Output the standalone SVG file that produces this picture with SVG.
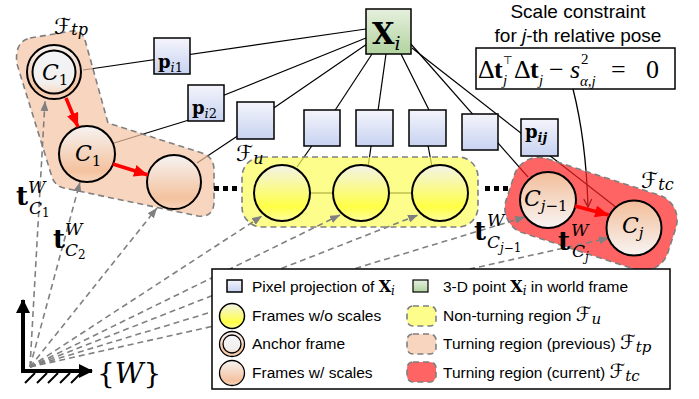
<svg xmlns="http://www.w3.org/2000/svg" width="699" height="399" viewBox="0 0 699 399">
<defs>
<linearGradient id="gBox" x1="0" y1="0" x2="0" y2="1"><stop offset="0" stop-color="#f4f4fb"/><stop offset="1" stop-color="#c8d3f1"/></linearGradient>
<linearGradient id="gGreen" x1="0" y1="0" x2="0" y2="1"><stop offset="0" stop-color="#e6f0de"/><stop offset="1" stop-color="#b2d39f"/></linearGradient>
<linearGradient id="gYel" x1="0" y1="0" x2="0" y2="1"><stop offset="0" stop-color="#f3f3ea"/><stop offset="0.75" stop-color="#ffff45"/><stop offset="1" stop-color="#ffffa0"/></linearGradient>
<linearGradient id="gPeach" x1="0" y1="0" x2="0" y2="1"><stop offset="0" stop-color="#f6f3f2"/><stop offset="0.8" stop-color="#f4c29f"/><stop offset="1" stop-color="#f8d6be"/></linearGradient>
<linearGradient id="gPeachRev" x1="0" y1="0" x2="0" y2="1"><stop offset="0" stop-color="#f2bd99"/><stop offset="1" stop-color="#f8f5f4"/></linearGradient>
<linearGradient id="gInner" x1="0" y1="0" x2="0" y2="1"><stop offset="0" stop-color="#f4f5f8"/><stop offset="0.75" stop-color="#f2f0ee"/><stop offset="1" stop-color="#f6d9c3"/></linearGradient>
<marker id="mGray" markerUnits="userSpaceOnUse" markerWidth="10" markerHeight="8" refX="10" refY="4" orient="auto"><path d="M0,0 L10,4 L0,8 Z" fill="#808080"/></marker>
<marker id="mRed" markerUnits="userSpaceOnUse" markerWidth="14" markerHeight="12" refX="14" refY="6" orient="auto"><path d="M0,0 L14,6 L0,12 Z" fill="#ff0000"/></marker>
<marker id="mAxis" markerUnits="userSpaceOnUse" markerWidth="14" markerHeight="14" refX="13" refY="7" orient="auto"><path d="M0,0 L14,7 L0,14 Z" fill="#000"/></marker>
<marker id="mOpen" markerUnits="userSpaceOnUse" markerWidth="10" markerHeight="10" refX="9" refY="5" orient="auto"><path d="M1,1 L9,5 L1,9" fill="none" stroke="#000" stroke-width="1.2"/></marker>
<style>
.ln{stroke:#000;stroke-width:1.2;fill:none}
.dash{stroke:#808080;stroke-width:1.6;stroke-dasharray:6 4;fill:none;marker-end:url(#mGray)}
.red{stroke:#ff0000;stroke-width:3.5;fill:none;marker-end:url(#mRed)}
.circ{stroke:#000;stroke-width:2}
.box{fill:url(#gBox);stroke:#000;stroke-width:1.5}
.reg{stroke:#808080;stroke-width:1.6;stroke-dasharray:6 4}
.m{font-family:"DejaVu Serif","Liberation Serif",serif}
.ms{font-family:"Liberation Serif","DejaVu Serif",serif}
.it{font-style:italic}
.bf{font-weight:bold}
.s{font-family:"Liberation Sans",Arial,sans-serif;font-size:15.5px}
.cal{font-family:"DejaVu Sans","DejaVu Serif",serif}
</style>
</defs>
<rect width="699" height="399" fill="#fff"/>

<g id="connectors">
<line class="ln" x1="83" y1="70" x2="366" y2="29"/>
<line class="ln" x1="114" y1="143" x2="202" y2="116"/>
<line class="ln" x1="212" y1="100" x2="366" y2="38"/>
<line class="ln" x1="197" y1="163" x2="248" y2="129"/>
<line class="ln" x1="265" y1="114" x2="367" y2="44"/>
<line class="ln" x1="297" y1="167" x2="316" y2="140"/>
<line class="ln" x1="330" y1="118" x2="372" y2="54"/>
<line class="ln" x1="368" y1="167" x2="372" y2="140"/>
<line class="ln" x1="377" y1="118" x2="386" y2="54"/>
<line class="ln" x1="432" y1="167" x2="427" y2="140"/>
<line class="ln" x1="433" y1="118" x2="401" y2="54"/>
<line class="ln" x1="410" y1="43" x2="528" y2="177"/>
<line class="ln" x1="412" y1="48" x2="617" y2="208"/>
<line class="ln" x1="310" y1="193" x2="333" y2="193" stroke-width="1.6"/>
<line class="ln" x1="389" y1="193" x2="412" y2="193" stroke-width="1.6"/>
<path d="M573,89 Q586,140 588,207" fill="none" stroke="#000" stroke-width="1.3" marker-end="url(#mOpen)"/>
</g>

<g id="regions">
<path id="region-tp" class="reg" fill="#f5c3a4" fill-opacity="0.7" d="M30,38 L72,31 Q82,30 85,40 L108,123 L202,153 Q214,157 214,170 L214,203 Q213,218 198,216 L64,188 Q55,186 52,177 L17,64 Q14,42 30,38 Z"/>
<rect id="region-u" class="reg" x="242" y="157" width="236" height="70" rx="20" fill="#fcfc5b" fill-opacity="0.7"/>
<rect id="region-tc" class="reg" x="506" y="175" width="170" height="78" rx="26" fill="#fe2222" fill-opacity="0.7" transform="rotate(18 591 214)"/>
</g>

<g id="pose-connectors">
<line class="dash" x1="30" y1="367" x2="45" y2="101"/>
<line class="dash" x1="30" y1="367" x2="80" y2="182"/>
<line class="dash" x1="30" y1="367" x2="157" y2="208"/>
<line class="dash" x1="30" y1="367" x2="262" y2="216"/>
<line class="dash" x1="30" y1="367" x2="340" y2="215"/>
<line class="dash" x1="30" y1="367" x2="418" y2="215"/>
<line class="dash" x1="30" y1="367" x2="525" y2="217"/>
<line class="dash" x1="30" y1="367" x2="609" y2="238"/>
</g>

<g id="node-anchor">
<circle class="circ" cx="54" cy="72" r="27" fill="url(#gPeach)"/>
<circle class="circ" cx="54" cy="72" r="21.5" fill="url(#gInner)"/>
<text class="m it" x="42" y="80" font-size="22">C<tspan font-style="normal" font-size="15" dy="5">1</tspan></text>
</g>
<g id="node-c1">
<circle class="circ" cx="87" cy="154" r="28" fill="url(#gPeach)"/>
<text class="m it" x="75" y="161" font-size="22">C<tspan font-style="normal" font-size="15" dy="5">1</tspan></text>
</g>
<g id="node-c2">
<circle class="circ" cx="174" cy="182" r="27" fill="url(#gPeach)"/>
</g>
<g id="node-u1"><circle class="circ" cx="282" cy="193" r="28" fill="url(#gYel)"/></g>
<g id="node-u2"><circle class="circ" cx="361" cy="193" r="28" fill="url(#gYel)"/></g>
<g id="node-u3"><circle class="circ" cx="440" cy="193" r="28" fill="url(#gYel)"/></g>
<g id="node-cj1">
<circle class="circ" cx="548" cy="200" r="28" fill="url(#gPeachRev)"/>
<text class="m it" x="524" y="206" font-size="22">C<tspan font-size="15" dy="5">j</tspan><tspan font-style="normal" font-size="15">−1</tspan></text>
</g>
<g id="node-cj">
<circle class="circ" cx="634" cy="228" r="27.5" fill="url(#gPeachRev)"/>
<text class="m it" x="622" y="233" font-size="22">C<tspan font-size="15" dy="5">j</tspan></text>
</g>

<g id="red-arrows">
<line class="red" x1="66" y1="98" x2="78" y2="127"/>
<line class="red" x1="113" y1="164" x2="148" y2="175"/>
<line class="red" x1="575" y1="206" x2="609" y2="215"/>
</g>

<g id="node-Xi">
<rect x="366" y="9" width="45" height="45" fill="url(#gGreen)" stroke="#000" stroke-width="1.5"/>
<text class="m bf" x="372" y="44" font-size="29">X<tspan class="it" font-weight="normal" font-size="19" dy="6">i</tspan></text>
</g>
<g id="node-pi1">
<rect class="box" x="154" y="38" width="36" height="36"/>
<text class="m bf" x="158" y="68" font-size="18">p<tspan class="it" font-weight="normal" font-size="13" dy="4">i</tspan><tspan font-weight="normal" font-size="13">1</tspan></text>
</g>
<g id="node-pi2">
<rect class="box" x="188" y="85" width="36" height="36"/>
<text class="m bf" x="192" y="114" font-size="18">p<tspan class="it" font-weight="normal" font-size="13" dy="4">i</tspan><tspan font-weight="normal" font-size="13">2</tspan></text>
</g>
<g id="node-b3"><rect class="box" x="237" y="102" width="37" height="37"/></g>
<g id="node-b4"><rect class="box" x="304" y="110" width="36" height="36"/></g>
<g id="node-b5"><rect class="box" x="356" y="110" width="37" height="36"/></g>
<g id="node-b6"><rect class="box" x="409" y="110" width="37" height="36"/></g>
<g id="node-b7"><rect class="box" x="462" y="114" width="36" height="36"/></g>
<g id="node-pij">
<rect class="box" x="521" y="119" width="37" height="37"/>
<text class="m bf" x="525" y="138" font-size="18">p<tspan class="it" font-size="13" dy="4">ij</tspan></text>
</g>

<g id="dots" fill="#000">
<rect x="214" y="186" width="5" height="5"/><rect x="223" y="186" width="5" height="5"/><rect x="232" y="186" width="5" height="5"/>
<rect x="485" y="186" width="5" height="5"/><rect x="494" y="186" width="5" height="5"/><rect x="503" y="186" width="5" height="5"/>
</g>

<g id="region-labels">
<text class="cal" x="54" y="34" font-size="22">ℱ<tspan class="m it" font-size="16" dy="1">tp</tspan></text>
<text class="cal" x="236" y="161" font-size="22">ℱ<tspan class="m it" font-size="16" dy="3">u</tspan></text>
<text class="cal" x="641" y="188" font-size="22">ℱ<tspan class="m it" font-size="16" dy="2">tc</tspan></text>
</g>

<g id="pose-labels" class="m">
<text class="bf" x="16" y="205" font-size="26">t</text>
<text class="it" x="28" y="193" font-size="17">W</text>
<text class="it" x="29" y="214" font-size="17">C<tspan font-style="normal" font-size="12" dy="3">1</tspan></text>
<text class="bf" x="53" y="248" font-size="26">t</text>
<text class="it" x="65" y="235" font-size="17">W</text>
<text class="it" x="65" y="256" font-size="17">C<tspan font-style="normal" font-size="12" dy="3">2</tspan></text>
<text class="bf" x="474" y="240" font-size="26">t</text>
<text class="it" x="487" y="226" font-size="17">W</text>
<text class="it" x="487" y="248" font-size="17">C<tspan font-size="12" dy="4">j</tspan><tspan font-style="normal" font-size="12">−1</tspan></text>
<text class="bf" x="558" y="250" font-size="26">t</text>
<text class="it" x="571" y="236" font-size="17">W</text>
<text class="it" x="572" y="257" font-size="17">C<tspan font-size="12" dy="4">j</tspan></text>
</g>

<g id="constraint">
<text x="578" y="18" text-anchor="middle" font-family="Liberation Sans,Arial,sans-serif" font-size="19">Scale constraint</text>
<text x="578" y="42" text-anchor="middle" font-family="Liberation Sans,Arial,sans-serif" font-size="19">for <tspan font-style="italic">j</tspan>-th relative pose</text>
<rect x="476" y="48" width="199" height="41" fill="#fff" stroke="#000" stroke-width="1.5"/>
<text class="ms" font-size="26" y="78"><tspan x="478">Δ</tspan><tspan x="494" class="bf">t</tspan><tspan x="503" y="64" font-size="11" font-family="DejaVu Sans,sans-serif">⊤</tspan><tspan x="503" y="85" font-size="15" class="it">j</tspan><tspan x="514" y="78">Δ</tspan><tspan x="530" class="bf">t</tspan><tspan x="539" y="85" font-size="15" class="it">j</tspan><tspan x="549" y="78">−</tspan><tspan x="570" class="it">s</tspan><tspan x="581" y="64" font-size="15">2</tspan><tspan x="580" y="86" font-size="15" class="it">α,j</tspan><tspan x="611" y="78">=</tspan><tspan x="646">0</tspan></text>
</g>

<g id="world-frame">
<line x1="23" y1="373" x2="23" y2="300" stroke="#000" stroke-width="4" marker-end="url(#mAxis)"/>
<line x1="21" y1="371" x2="92" y2="371" stroke="#000" stroke-width="4" marker-end="url(#mAxis)"/>
<g stroke="#000" stroke-width="2">
<line x1="25" y1="383" x2="35" y2="373"/><line x1="37" y1="383" x2="47" y2="373"/><line x1="48" y1="383" x2="58" y2="373"/><line x1="60" y1="383" x2="70" y2="373"/><line x1="71" y1="383" x2="81" y2="373"/>
</g>
<text class="m" x="97" y="383" font-size="28">{<tspan class="it">W</tspan>}</text>
</g>

<g id="legend">
<rect x="212" y="269" width="458" height="120" fill="#fff" stroke="#000" stroke-width="1.5"/>
<rect x="227" y="280" width="15" height="12" class="box" stroke-width="1.2"/>
<text class="s" x="252" y="292">Pixel projection of <tspan class="m bf" font-size="16">X</tspan><tspan class="m it" font-size="12" dy="3">i</tspan></text>
<circle cx="232" cy="316" r="12.5" fill="url(#gYel)" stroke="#000" stroke-width="1.5"/>
<text class="s" x="252" y="321">Frames w/o scales</text>
<circle cx="232" cy="344" r="12.5" fill="url(#gPeach)" stroke="#000" stroke-width="1.3"/>
<circle cx="232" cy="344" r="9" fill="url(#gInner)" stroke="#000" stroke-width="1.3"/>
<text class="s" x="252" y="349">Anchor frame</text>
<circle cx="232" cy="373" r="12.5" fill="url(#gPeach)" stroke="#000" stroke-width="1.3"/>
<text class="s" x="252" y="378">Frames w/ scales</text>
<rect x="413" y="280" width="15" height="12" fill="url(#gGreen)" stroke="#000" stroke-width="1.2"/>
<text class="s" x="443" y="292">3-D point <tspan class="m bf" font-size="16">X</tspan><tspan class="m it" font-size="12" dy="3">i</tspan><tspan dy="-3"> in world frame</tspan></text>
<rect x="407" y="306" width="29" height="20" rx="6" class="reg" fill="#fdfd8c"/>
<text class="s" x="443" y="321">Non-turning region <tspan class="cal" font-size="20">ℱ</tspan><tspan class="m it" font-size="15" dy="3">u</tspan></text>
<rect x="407" y="334" width="29" height="20" rx="6" class="reg" fill="#f8d5bf"/>
<text class="s" x="443" y="349">Turning region (previous) <tspan class="cal" font-size="20">ℱ</tspan><tspan class="m it" font-size="15" dy="3">tp</tspan></text>
<rect x="407" y="362" width="29" height="20" rx="6" class="reg" fill="#fe6464"/>
<text class="s" x="443" y="378">Turning region (current) <tspan class="cal" font-size="20">ℱ</tspan><tspan class="m it" font-size="15" dy="3">tc</tspan></text>
</g>
</svg>
